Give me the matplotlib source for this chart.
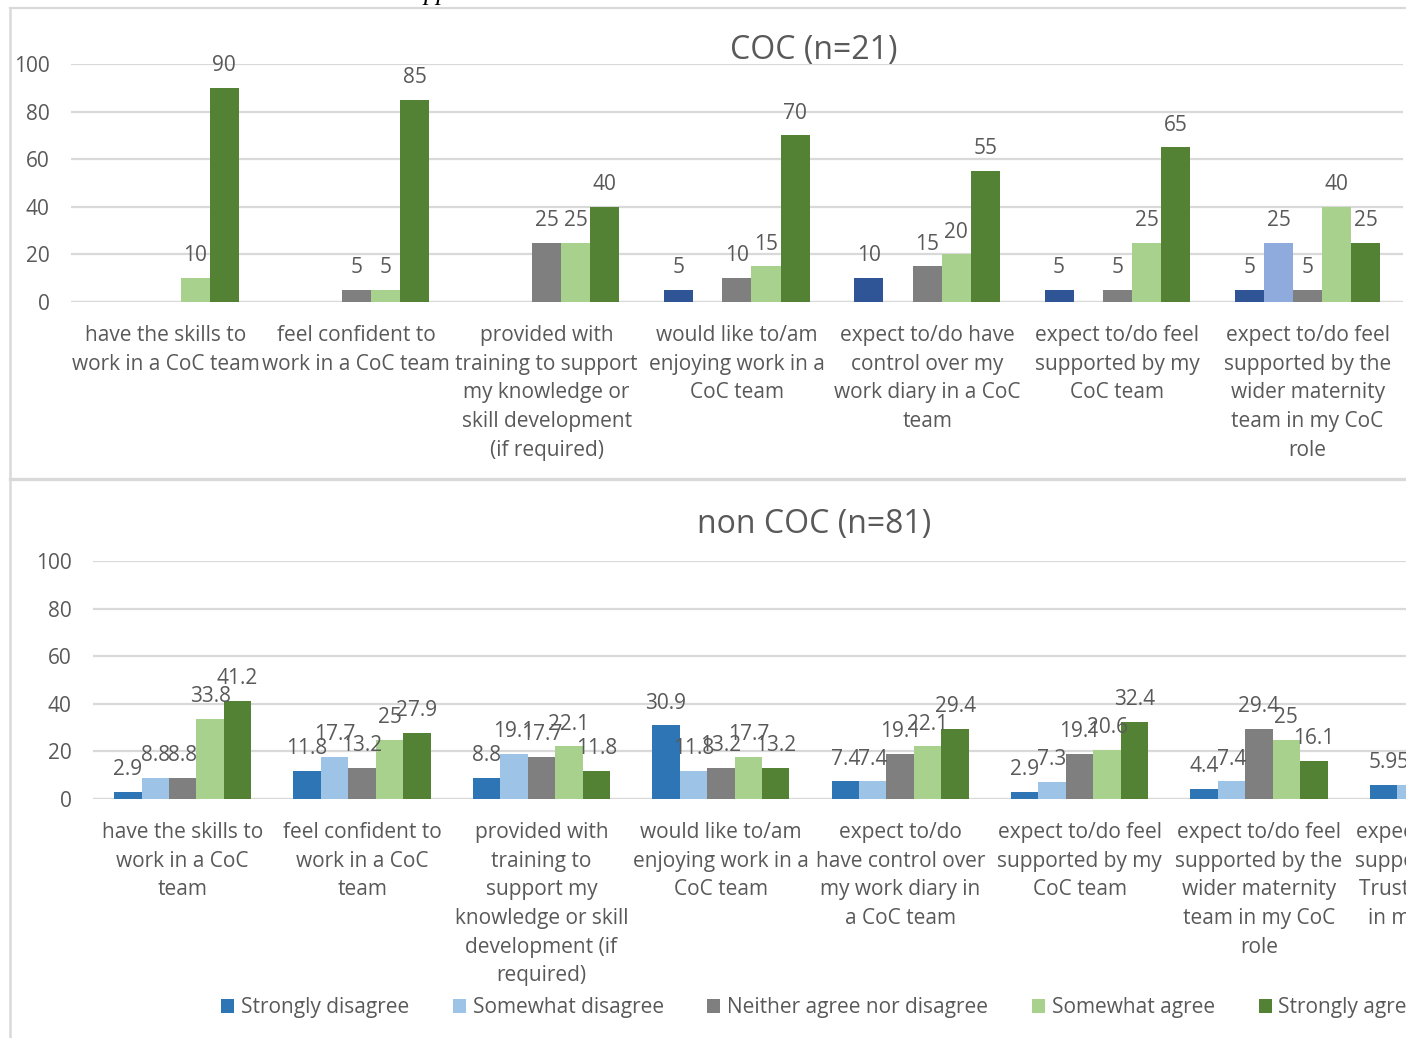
import numpy as np
import matplotlib
matplotlib.use("Agg")
import matplotlib.pyplot as plt
from matplotlib.patches import Patch
from matplotlib.lines import Line2D

plt.rcParams['font.family'] = ['Open Sans', 'DejaVu Sans']

series = ["Strongly disagree", "Somewhat disagree", "Neither agree nor disagree",
          "Somewhat agree", "Strongly agree"]

# COC respondents (n=21), percentages per statement
coc_categories = [
    "have the skills to\nwork in a CoC team",
    "feel confident to\nwork in a CoC team",
    "provided with\ntraining to support\nmy knowledge or\nskill development\n(if required)",
    "would like to/am\nenjoying work in a\nCoC team",
    "expect to/do have\ncontrol over my\nwork diary in a CoC\nteam",
    "expect to/do feel\nsupported by my\nCoC team",
    "expect to/do feel\nsupported by the\nwider maternity\nteam in my CoC\nrole",
]
coc_strongly_disagree = [0, 0, 0, 5, 10, 5, 5]
coc_somewhat_disagree = [0, 0, 0, 0, 0, 0, 25]
coc_neither = [0, 5, 25, 10, 15, 5, 5]
coc_somewhat_agree = [10, 5, 25, 15, 20, 25, 40]
coc_strongly_agree = [90, 85, 40, 70, 55, 65, 25]

# non COC respondents (n=81), percentages per statement
noncoc_categories = [
    "have the skills to\nwork in a CoC\nteam",
    "feel confident to\nwork in a CoC\nteam",
    "provided with\ntraining to\nsupport my\nknowledge or skill\ndevelopment (if\nrequired)",
    "would like to/am\nenjoying work in a\nCoC team",
    "expect to/do\nhave control over\nmy work diary in\na CoC team",
    "expect to/do feel\nsupported by my\nCoC team",
    "expect to/do feel\nsupported by the\nwider maternity\nteam in my CoC\nrole",
    "expect to/do feel\nsupported by the\nTrust as a whole\nin my CoC role",
]
noncoc_strongly_disagree = [2.9, 11.8, 8.8, 30.9, 7.4, 2.9, 4.4, 5.9]
noncoc_somewhat_disagree = [8.8, 17.7, 19.1, 11.8, 7.4, 7.3, 7.4, 5.9]
noncoc_neither = [8.8, 13.2, 17.7, 13.2, 19.1, 19.1, 29.4, np.nan]
noncoc_somewhat_agree = [33.8, 25, 22.1, 17.7, 22.1, 20.6, 25, np.nan]
noncoc_strongly_agree = [41.2, 27.9, 11.8, 13.2, 29.4, 32.4, 16.1, np.nan]

coc_colors = ["#2F5597", "#8FAADC", "#7F7F7F", "#A9D18E", "#548235"]
noncoc_colors = ["#2E75B6", "#9DC3E6", "#7F7F7F", "#A9D18E", "#548235"]

TEXT = "#595959"
GRID = "#D9D9D9"
FS = 15

W, H = 1406, 1038
fig = plt.figure(figsize=(W / 100, H / 100), dpi=100)


def px_axes(left, top_val_y, zero_y, width):
    return fig.add_axes([left / W, (H - zero_y) / H, width / W, (zero_y - top_val_y) / H])


def draw_panel(ax, cats, values, colors, title, title_y, hide_zero):
    n = len(cats)
    x = np.arange(n)
    bw = 0.153
    for i, (vals, col) in enumerate(zip(values, colors)):
        vals = np.array(vals, dtype=float)
        xs = x + (i - 2) * bw
        ax.bar(xs, np.nan_to_num(vals), width=bw, color=col, edgecolor="none", zorder=3)
        for xv, v in zip(xs, vals):
            if np.isnan(v) or (hide_zero and v == 0):
                continue
            ax.annotate(f"{v:g}", (xv, v), xytext=(0, 16), textcoords="offset points",
                        ha="center", va="center", fontsize=FS, color=TEXT, zorder=4)
    ax.set_xlim(-0.5, n - 0.5)
    ax.set_ylim(0, 100)
    ax.set_yticks(range(0, 101, 20))
    ax.yaxis.grid(True, color=GRID, linewidth=1.6, zorder=0)
    ax.set_axisbelow(True)
    for s in ax.spines.values():
        s.set_visible(False)
    ax.axhline(0, color=GRID, linewidth=1.6, zorder=2)
    ax.tick_params(axis="y", length=0, pad=15.5, labelsize=FS, labelcolor=TEXT)
    ax.tick_params(axis="x", length=0, pad=16.5, labelsize=FS, labelcolor=TEXT)
    ax.set_xticks(x)
    ax.set_xticklabels(cats, linespacing=1.48)
    fig.text(814 / W, 1 - title_y / H, title, ha="center", va="center",
             fontsize=23, color=TEXT)


ax1 = px_axes(71, 64, 302, 1331.7)
draw_panel(ax1, coc_categories,
           [coc_strongly_disagree, coc_somewhat_disagree, coc_neither,
            coc_somewhat_agree, coc_strongly_agree],
           coc_colors, "COC (n=21)", 51, True)

ax2 = px_axes(93, 561, 799, 1435)
draw_panel(ax2, noncoc_categories,
           [noncoc_strongly_disagree, noncoc_somewhat_disagree, noncoc_neither,
            noncoc_somewhat_agree, noncoc_strongly_agree],
           noncoc_colors, "non COC (n=81)", 525, False)

# legend for the lower chart
handles = [Patch(facecolor=c, edgecolor="none") for c in noncoc_colors]
leg = fig.legend(handles, series, loc="center left", ncol=5,
                 bbox_to_anchor=(221 / W, 1 - 1008 / H), frameon=False,
                 fontsize=FS, labelcolor=TEXT, handlelength=0.62, handleheight=0.62,
                 handletextpad=0.33, columnspacing=2.1, borderaxespad=0, borderpad=0)

# chart area borders
def fline(x0, y0, x1, y1, lw):
    fig.add_artist(Line2D([x0 / W, x1 / W], [1 - y0 / H, 1 - y1 / H],
                          color=GRID, linewidth=lw, transform=fig.transFigure))

fline(10, 8, W + 5, 8, 1.6)
fline(10, 8, 10, H + 5, 1.8)
fline(10, 479.5, W + 5, 479.5, 2.4)

# fragment of the caption text above the charts
fig.text(437 / W, 1.0, "pp", ha="center", va="baseline", fontsize=19,
         family="Liberation Serif", style="italic", color="black")

fig.savefig("out.png", dpi=100)
